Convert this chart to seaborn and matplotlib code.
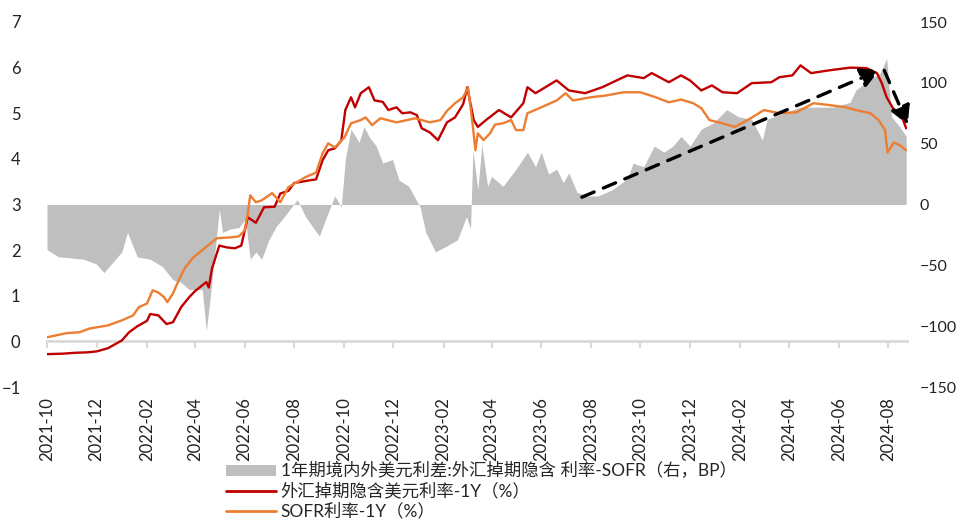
"""
plot.py
1年期境内外美元利差 chart: implied USD rate vs SOFR 1Y, with spread on right axis
"""
import matplotlib
matplotlib.use('Agg')
import pandas as pd
import matplotlib.pyplot as plt
import matplotlib.dates as mdates
from matplotlib.patches import Patch
from matplotlib.lines import Line2D
import seaborn as sns


# DATA =================================

red_dates = [
    '2021-10-01', '2021-10-20', '2021-11-05', '2021-11-20', '2021-12-01', '2021-12-15',
    '2021-12-25', '2022-01-01', '2022-01-10', '2022-01-20', '2022-02-01', '2022-02-05',
    '2022-02-15', '2022-02-25', '2022-03-05', '2022-03-15', '2022-03-25', '2022-04-01',
    '2022-04-15', '2022-04-18', '2022-04-22', '2022-05-01', '2022-05-10', '2022-05-20',
    '2022-05-28', '2022-06-05', '2022-06-15', '2022-06-25', '2022-07-08', '2022-07-15',
    '2022-07-25', '2022-08-01', '2022-08-20', '2022-08-28', '2022-09-05', '2022-09-12',
    '2022-09-20', '2022-09-28', '2022-10-03', '2022-10-10', '2022-10-15', '2022-10-22',
    '2022-11-01', '2022-11-08', '2022-11-18', '2022-11-25', '2022-12-05', '2022-12-12',
    '2022-12-22', '2022-12-30', '2023-01-05', '2023-01-15', '2023-01-25', '2023-02-05',
    '2023-02-15', '2023-02-25', '2023-03-02', '2023-03-10', '2023-03-15', '2023-03-25',
    '2023-04-10', '2023-04-25', '2023-05-10', '2023-05-15', '2023-05-25', '2023-06-20',
    '2023-07-05', '2023-07-25', '2023-08-15', '2023-09-15', '2023-10-05', '2023-10-15',
    '2023-11-05', '2023-11-20', '2023-12-01', '2023-12-15', '2023-12-28', '2024-01-10',
    '2024-01-28', '2024-02-15', '2024-03-10', '2024-03-20', '2024-04-05', '2024-04-15',
    '2024-04-28', '2024-05-20', '2024-06-15', '2024-07-05', '2024-07-18', '2024-07-24',
    '2024-07-30', '2024-08-08', '2024-08-18', '2024-08-23',
]
red_values = [
    -0.28, -0.27, -0.25, -0.24, -0.22, -0.15,
    -0.05, 0.02, 0.20, 0.33, 0.45, 0.60,
    0.57, 0.38, 0.42, 0.75, 0.97, 1.10,
    1.30, 1.18, 1.60, 2.10, 2.06, 2.04,
    2.10, 2.72, 2.60, 2.94, 2.95, 3.24,
    3.30, 3.47, 3.53, 3.55, 3.97, 4.19,
    4.23, 4.40, 5.07, 5.35, 5.13, 5.44,
    5.57, 5.28, 5.25, 5.07, 5.13, 5.00,
    5.02, 4.96, 4.67, 4.58, 4.41, 4.80,
    4.91, 5.20, 5.57, 4.85, 4.70, 4.85,
    5.07, 4.91, 5.22, 5.57, 5.44, 5.72,
    5.50, 5.44, 5.57, 5.83, 5.77, 5.88,
    5.68, 5.83, 5.72, 5.50, 5.61, 5.46,
    5.44, 5.66, 5.68, 5.79, 5.83, 6.05,
    5.88, 5.94, 6.00, 5.99, 5.88, 5.66,
    5.35, 5.07, 4.91, 4.67,
]

sofr_dates = [
    '2021-10-01', '2021-10-25', '2021-11-10', '2021-11-22', '2021-12-15', '2022-01-01',
    '2022-01-15', '2022-01-22', '2022-02-01', '2022-02-08', '2022-02-15', '2022-02-22',
    '2022-02-26', '2022-03-05', '2022-03-12', '2022-03-20', '2022-03-30', '2022-04-10',
    '2022-04-28', '2022-05-15', '2022-05-25', '2022-06-01', '2022-06-05', '2022-06-08',
    '2022-06-15', '2022-06-22', '2022-07-05', '2022-07-15', '2022-07-25', '2022-08-15',
    '2022-08-28', '2022-09-05', '2022-09-12', '2022-09-20', '2022-10-02', '2022-10-10',
    '2022-10-22', '2022-10-28', '2022-11-05', '2022-11-15', '2022-12-05', '2022-12-28',
    '2023-01-15', '2023-01-28', '2023-02-05', '2023-02-15', '2023-02-25', '2023-03-03',
    '2023-03-09', '2023-03-12', '2023-03-15', '2023-03-22', '2023-03-30', '2023-04-05',
    '2023-04-15', '2023-04-25', '2023-05-01', '2023-05-10', '2023-05-15', '2023-06-01',
    '2023-06-20', '2023-07-01', '2023-07-10', '2023-08-01', '2023-08-20', '2023-09-10',
    '2023-10-01', '2023-10-20', '2023-11-05', '2023-11-20', '2023-12-05', '2023-12-15',
    '2023-12-25', '2024-01-10', '2024-01-25', '2024-02-10', '2024-03-01', '2024-03-20',
    '2024-04-10', '2024-05-01', '2024-05-20', '2024-06-10', '2024-06-22', '2024-07-10',
    '2024-07-20', '2024-07-28', '2024-07-31', '2024-08-08', '2024-08-15', '2024-08-23',
]
sofr_values = [
    0.09, 0.18, 0.20, 0.28, 0.35, 0.46,
    0.57, 0.75, 0.83, 1.12, 1.07, 0.97,
    0.86, 1.05, 1.34, 1.62, 1.84, 2.00,
    2.26, 2.28, 2.30, 2.43, 2.80, 3.20,
    3.05, 3.09, 3.25, 3.05, 3.38, 3.60,
    3.70, 4.12, 4.34, 4.25, 4.47, 4.78,
    4.85, 4.91, 4.74, 4.89, 4.80, 4.89,
    4.80, 4.85, 5.05, 5.22, 5.35, 5.57,
    4.70, 4.19, 4.56, 4.41, 4.56, 4.75,
    4.78, 4.85, 4.63, 4.63, 5.00, 5.13,
    5.28, 5.44, 5.28, 5.35, 5.39, 5.46,
    5.46, 5.35, 5.24, 5.30, 5.22, 5.11,
    4.85, 4.78, 4.70, 4.85, 5.07, 5.00,
    5.02, 5.22, 5.18, 5.13, 5.07, 5.00,
    4.85, 4.63, 4.14, 4.36, 4.30, 4.19,
]

spread_dates = [
    '2021-10-01', '2021-10-15', '2021-11-01', '2021-11-15', '2021-12-01', '2021-12-10',
    '2022-01-01', '2022-01-08', '2022-01-20', '2022-02-05', '2022-02-20', '2022-03-05',
    '2022-03-15', '2022-03-25', '2022-04-10', '2022-04-15', '2022-04-20', '2022-05-01',
    '2022-05-05', '2022-05-15', '2022-05-25', '2022-06-02', '2022-06-08', '2022-06-15',
    '2022-06-22', '2022-07-01', '2022-07-10', '2022-07-20', '2022-08-05', '2022-08-15',
    '2022-09-01', '2022-09-10', '2022-09-20', '2022-09-28', '2022-10-03', '2022-10-10',
    '2022-10-20', '2022-10-26', '2022-11-01', '2022-11-10', '2022-11-18', '2022-11-30',
    '2022-12-08', '2022-12-20', '2022-12-29', '2023-01-03', '2023-01-10', '2023-01-22',
    '2023-02-05', '2023-02-18', '2023-03-01', '2023-03-06', '2023-03-09', '2023-03-15',
    '2023-03-20', '2023-03-27', '2023-04-01', '2023-04-15', '2023-05-01', '2023-05-15',
    '2023-05-25', '2023-06-01', '2023-06-10', '2023-06-20', '2023-06-28', '2023-07-05',
    '2023-07-15', '2023-07-28', '2023-08-10', '2023-08-27', '2023-09-15', '2023-09-22',
    '2023-10-05', '2023-10-18', '2023-10-30', '2023-11-10', '2023-11-20', '2023-12-01',
    '2023-12-15', '2023-12-30', '2024-01-15', '2024-01-30', '2024-02-15', '2024-02-28',
    '2024-03-05', '2024-03-25', '2024-04-15', '2024-05-05', '2024-05-25', '2024-06-15',
    '2024-06-22', '2024-07-08', '2024-07-22', '2024-07-30', '2024-08-05', '2024-08-15',
    '2024-08-23',
]
spread_values = [
    -37, -43, -44, -45, -49, -56,
    -39, -23, -43, -45, -51, -62,
    -64, -70, -70, -104, -75, -4,
    -23, -20, -19, -12, -45, -39,
    -45, -29, -18, -10, 4, -10,
    -26, -10, 7, -2, 37, 62,
    51, 64, 56, 48, 34, 37,
    20, 15, 4, -2, -23, -39,
    -34, -29, -10, -20, 45, 12,
    49, 15, 23, 15, 29, 43,
    31, 43, 25, 29, 18, 26,
    10, 7, 7, 12, 21, 34,
    31, 48, 43, 48, 56, 48,
    62, 67, 78, 72, 70, 53,
    70, 75, 80, 80, 80, 84,
    94, 102, 108, 120, 72, 64,
    56,
]

legend_labels = [
    '1年期境内外美元利差:外汇掉期隐含 利率-SOFR（右，BP）',
    '外汇掉期隐含美元利率-1Y（%）',
    'SOFR利率-1Y（%）',
]

# dashed trend arrows (start, tip) in (date, left-axis value)
arrow_up = (('2023-07-21', 3.16), ('2024-07-21', 5.94))
arrow_down = (('2024-07-27', 5.94), ('2024-08-25', 4.75))

RED = '#C00000'
ORANGE = '#ED7D31'
GRAY = '#BFBFBF'


# PLOT =================================

sns.set_theme(style='white')
plt.rcParams['font.family'] = ['Lato', 'Noto Sans CJK SC', 'DejaVu Sans']

red_df = pd.DataFrame({'date': pd.to_datetime(red_dates), 'value': red_values})
sofr_df = pd.DataFrame({'date': pd.to_datetime(sofr_dates), 'value': sofr_values})
spread_df = pd.DataFrame({'date': pd.to_datetime(spread_dates), 'value': spread_values})

fig = plt.figure(figsize=(9.6, 5.22), dpi=100)
ax1 = fig.add_axes([47 / 960, 1 - 387 / 522, 860 / 960, 365 / 522])
ax2 = ax1.twinx()

# gray spread area on right axis, kept behind the lines
ax2.fill_between(spread_df['date'], spread_df['value'], 0, color=GRAY, lw=0)
ax1.set_zorder(ax2.get_zorder() + 1)
ax1.patch.set_visible(False)

sns.lineplot(data=red_df, x='date', y='value', ax=ax1, color=RED, lw=1.7, legend=False)
sns.lineplot(data=sofr_df, x='date', y='value', ax=ax1, color=ORANGE, lw=1.7, legend=False)

for (s_d, s_v), (t_d, t_v) in (arrow_up, arrow_down):
    ax1.annotate('', xy=(pd.Timestamp(t_d), t_v), xytext=(pd.Timestamp(s_d), s_v),
                 annotation_clip=False,
                 arrowprops=dict(arrowstyle='-|>,head_length=0.55,head_width=0.3',
                                 color='black', lw=2.4, linestyle=(0, (4, 3)),
                                 mutation_scale=20, shrinkA=0, shrinkB=0))

ax1.set_xlim(pd.Timestamp('2021-10-01'), pd.Timestamp('2024-08-24'))
ax1.set_ylim(-1, 7)
ax2.set_ylim(-150, 150)
ax1.set_yticks(range(-1, 8))
ax2.set_yticks(range(-150, 151, 50))

ax1.xaxis.set_major_locator(mdates.MonthLocator(bymonth=[2, 4, 6, 8, 10, 12]))
ax1.xaxis.set_major_formatter(mdates.DateFormatter('%Y-%m'))
ax1.tick_params(axis='x', length=0, pad=7, labelsize=12, labelrotation=90, colors='#222222')
ax1.tick_params(axis='y', length=0, pad=19, labelsize=12, colors='#222222')
ax2.tick_params(axis='y', length=0, pad=9, labelsize=11.5, colors='#222222')
ax1.set_xlabel('')
ax1.set_ylabel('')

for ax in (ax1, ax2):
    for sp in ax.spines.values():
        sp.set_visible(False)

# x-axis line crossing at left value 0
zero_axis = ax1.secondary_xaxis(1 / 8)
zero_axis.xaxis.set_major_locator(mdates.MonthLocator(bymonth=[2, 4, 6, 8, 10, 12]))
zero_axis.tick_params(axis='x', length=5, width=1.5, color='#D9D9D9', direction='out',
                      labelbottom=False, labeltop=False)
zero_axis.spines['bottom'].set_color('#D9D9D9')
zero_axis.spines['bottom'].set_linewidth(2)
for side in ('top', 'left', 'right'):
    zero_axis.spines[side].set_visible(False)

handles = [
    Patch(facecolor=GRAY, edgecolor='none'),
    Line2D([], [], color=RED, lw=2),
    Line2D([], [], color=ORANGE, lw=2),
]
fig.legend(handles, legend_labels, loc='upper left', bbox_to_anchor=(226 / 960, 1 - 462 / 522),
           frameon=False, fontsize=12.5, handlelength=2.9, handleheight=0.6,
           labelspacing=0.2, handletextpad=0.25, borderaxespad=0, borderpad=0)

fig.savefig('out.png', dpi=100)
